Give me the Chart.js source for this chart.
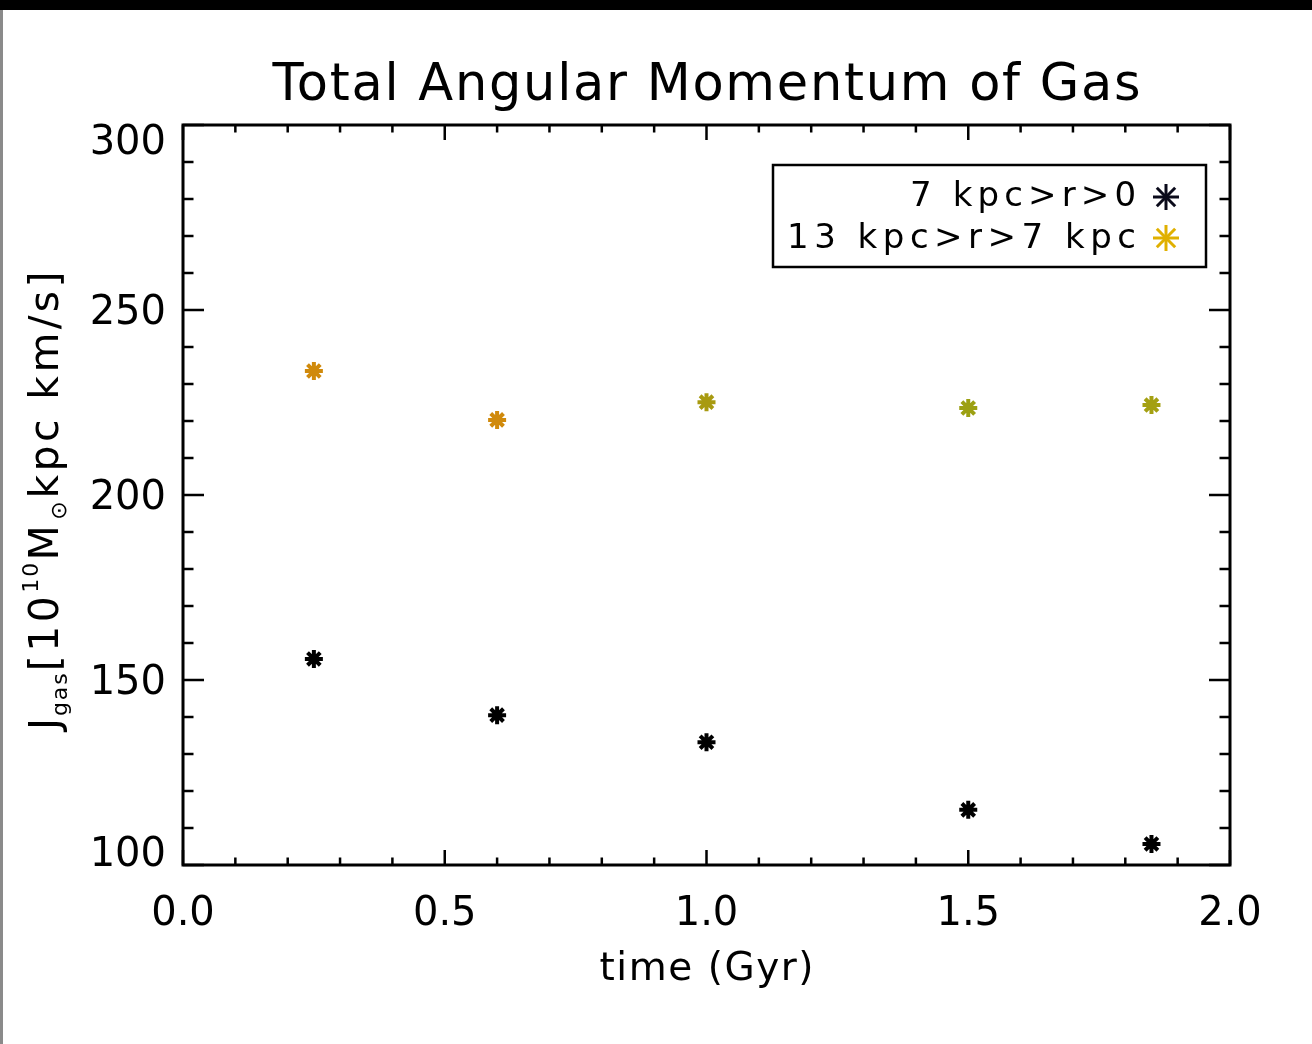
<!DOCTYPE html>
<html>
<head>
<meta charset="utf-8">
<title>Total Angular Momentum of Gas</title>
<script src="https://cdn.jsdelivr.net/npm/chart.js@4.4.1/dist/chart.umd.min.js"></script>
<style>
  html, body { margin: 0; padding: 0; background: #fff; }
  canvas { display: block; }
</style>
</head>
<body>
<canvas id="grafico" width="1312" height="1044"></canvas>
<script>
// dados
const tempos = [0.25, 0.60, 1.00, 1.50, 1.85];          // Gyr
const jInterno = [155.7, 140.5, 133.2, 114.9, 105.7];   // 7 kpc > r > 0
const jExterno = [233.5, 220.3, 225.1, 223.5, 224.3];   // 13 kpc > r > 7 kpc
const coresExterno = ['#d08a0c', '#d08a0c', '#a89a10', '#9ca012', '#a4a012'];
const rotulos = ['7 kpc>r>0', '13 kpc>r>7 kpc'];
const xTicks = [0, 0.5, 1.0, 1.5, 2.0];
const yTicks = [100, 150, 200, 250, 300];

const FONTE = '"DejaVu Sans", "Open Sans", sans-serif';

// escreve texto ajustando o espaçamento para caber numa largura
function textoAjustado(ctx, txt, x, y, largura, align) {
    ctx.letterSpacing = '0px';
    const w = ctx.measureText(txt).width;
    const extra = txt.length > 1 ? (largura - w) / (txt.length - 1) : 0;
    ctx.letterSpacing = extra.toFixed(2) + 'px';
    ctx.textAlign = 'left';
    let x0 = x;
    if (align === 'center') x0 = x - largura / 2;
    if (align === 'right') x0 = x - largura;
    ctx.fillText(txt, x0, y);
    ctx.letterSpacing = '0px';
}

function asterisco(ctx, x, y, r, cor, lw) {
    ctx.save();
    ctx.strokeStyle = cor;
    ctx.lineWidth = lw;
    for (let k = 0; k < 4; k++) {
        const a = k * Math.PI / 4;
        ctx.beginPath();
        ctx.moveTo(x - r * Math.cos(a), y - r * Math.sin(a));
        ctx.lineTo(x + r * Math.cos(a), y + r * Math.sin(a));
        ctx.stroke();
    }
    ctx.restore();
}

const moldura = {
    id: 'moldura',
    beforeDraw(chart) {
        const ctx = chart.ctx;
        ctx.save();
        ctx.fillStyle = '#fff';
        ctx.fillRect(0, 0, chart.width, chart.height);
        ctx.fillStyle = '#000';
        ctx.fillRect(0, 0, chart.width, 10);
        ctx.fillStyle = '#8a8a8a';
        ctx.fillRect(0, 10, 3, chart.height - 10);
        ctx.restore();
    },
    afterDraw(chart) {
        const { ctx, chartArea: { left, right, top, bottom }, scales: { x, y } } = chart;
        ctx.save();
        ctx.strokeStyle = '#000';
        ctx.lineWidth = 3;
        ctx.strokeRect(left, top, right - left, bottom - top);

        // ticks para dentro em todos os lados
        ctx.lineWidth = 2.5;
        for (let i = 0; i <= 20; i++) {
            const px = x.getPixelForValue(i / 10);
            const len = i % 5 === 0 ? 15 : 7.5;
            ctx.beginPath();
            ctx.moveTo(px, bottom); ctx.lineTo(px, bottom - len);
            ctx.moveTo(px, top); ctx.lineTo(px, top + len);
            ctx.stroke();
        }
        for (let v = 100; v <= 300; v += 10) {
            const py = y.getPixelForValue(v);
            const len = v % 50 === 0 ? 21 : 10.5;
            ctx.beginPath();
            ctx.moveTo(left, py); ctx.lineTo(left + len, py);
            ctx.moveTo(right, py); ctx.lineTo(right - len, py);
            ctx.stroke();
        }

        ctx.fillStyle = '#000';
        ctx.textBaseline = 'alphabetic';

        // rótulos do eixo y (os extremos ficam puxados para dentro, como no original)
        ctx.font = '40px ' + FONTE;
        ctx.textAlign = 'right';
        yTicks.forEach(v => {
            let py = y.getPixelForValue(v);
            if (v === 300) py += 15;
            if (v === 100) py -= 13;
            ctx.fillText(String(v), 166, py + 14);
        });

        // título
        ctx.font = '51px ' + FONTE;
        textoAjustado(ctx, 'Total Angular Momentum of Gas', (left + right) / 2, 100, 868, 'center');

        // título do eixo x
        ctx.font = '39px ' + FONTE;
        textoAjustado(ctx, 'time (Gyr)', (left + right) / 2, 980, 214, 'center');

        // título do eixo y com sub/sobrescritos
        ctx.save();
        ctx.translate(58, 730);
        ctx.rotate(-Math.PI / 2);
        const partes = [
            { t: 'J', f: 41, dy: 0 },
            { t: 'gas', f: 22, dy: 9 },
            { t: '[10', f: 41, dy: 0 },
            { t: '10', f: 22, dy: -20 },
            { t: 'M', f: 41, dy: 0 },
            { t: '\u2299', f: 22, dy: 8 },
            { t: 'kpc km/s]', f: 41, dy: 0 }
        ];
        let total = 0;
        partes.forEach(p => { ctx.font = p.f + 'px ' + FONTE; p.w = ctx.measureText(p.t).width; total += p.w; });
        const esc = 462 / total;
        let cx = 0;
        ctx.textAlign = 'left';
        partes.forEach(p => {
            ctx.font = p.f + 'px ' + FONTE;
            ctx.letterSpacing = ((esc - 1) * p.w / Math.max(p.t.length, 1)).toFixed(2) + 'px';
            ctx.fillText(p.t, cx, p.dy);
            cx += p.w * esc;
        });
        ctx.letterSpacing = '0px';
        ctx.restore();

        // legenda
        ctx.lineWidth = 2.5;
        ctx.strokeRect(773, 165, 433, 102);
        ctx.font = '34px ' + FONTE;
        textoAjustado(ctx, rotulos[0], 1136, 206, 226, 'right');
        textoAjustado(ctx, rotulos[1], 1136, 248, 349, 'right');
        asterisco(ctx, 1166, 197, 13, '#0a0a1a', 3);
        asterisco(ctx, 1166, 238, 13, '#e0b000', 3);
        ctx.restore();
    }
};

new Chart(document.getElementById('grafico'), {
    type: 'scatter',
    data: {
        datasets: [
            {
                label: rotulos[0],
                data: tempos.map((t, i) => ({ x: t, y: jInterno[i] })),
                pointStyle: 'star',
                pointRadius: 9,
                borderWidth: 4,
                borderColor: '#000',
                backgroundColor: '#000'
            },
            {
                label: rotulos[1],
                data: tempos.map((t, i) => ({ x: t, y: jExterno[i] })),
                pointStyle: 'star',
                pointRadius: 9,
                borderWidth: 4,
                borderColor: coresExterno,
                backgroundColor: coresExterno
            }
        ]
    },
    options: {
        responsive: false,
        animation: false,
        devicePixelRatio: 1,
        layout: { padding: { top: 125, right: 82, left: 0, bottom: 0 } },
        plugins: { legend: { display: false }, tooltip: { enabled: false } },
        scales: {
            x: {
                type: 'linear', min: 0, max: 2,
                grid: { display: false, drawTicks: false },
                border: { display: false },
                afterBuildTicks: s => { s.ticks = xTicks.map(v => ({ value: v })); },
                ticks: {
                    callback: v => Number(v).toFixed(1),
                    font: { size: 40, family: FONTE },
                    color: '#000',
                    padding: 26,
                    maxRotation: 0
                },
                afterFit: s => { s.height = 179; }
            },
            y: {
                type: 'linear', min: 100, max: 300,
                grid: { display: false, drawTicks: false },
                border: { display: false },
                afterBuildTicks: s => { s.ticks = yTicks.map(v => ({ value: v })); },
                ticks: { display: false },
                afterFit: s => { s.width = 183; }
            }
        }
    },
    plugins: [moldura]
});
</script>
</body>
</html>
